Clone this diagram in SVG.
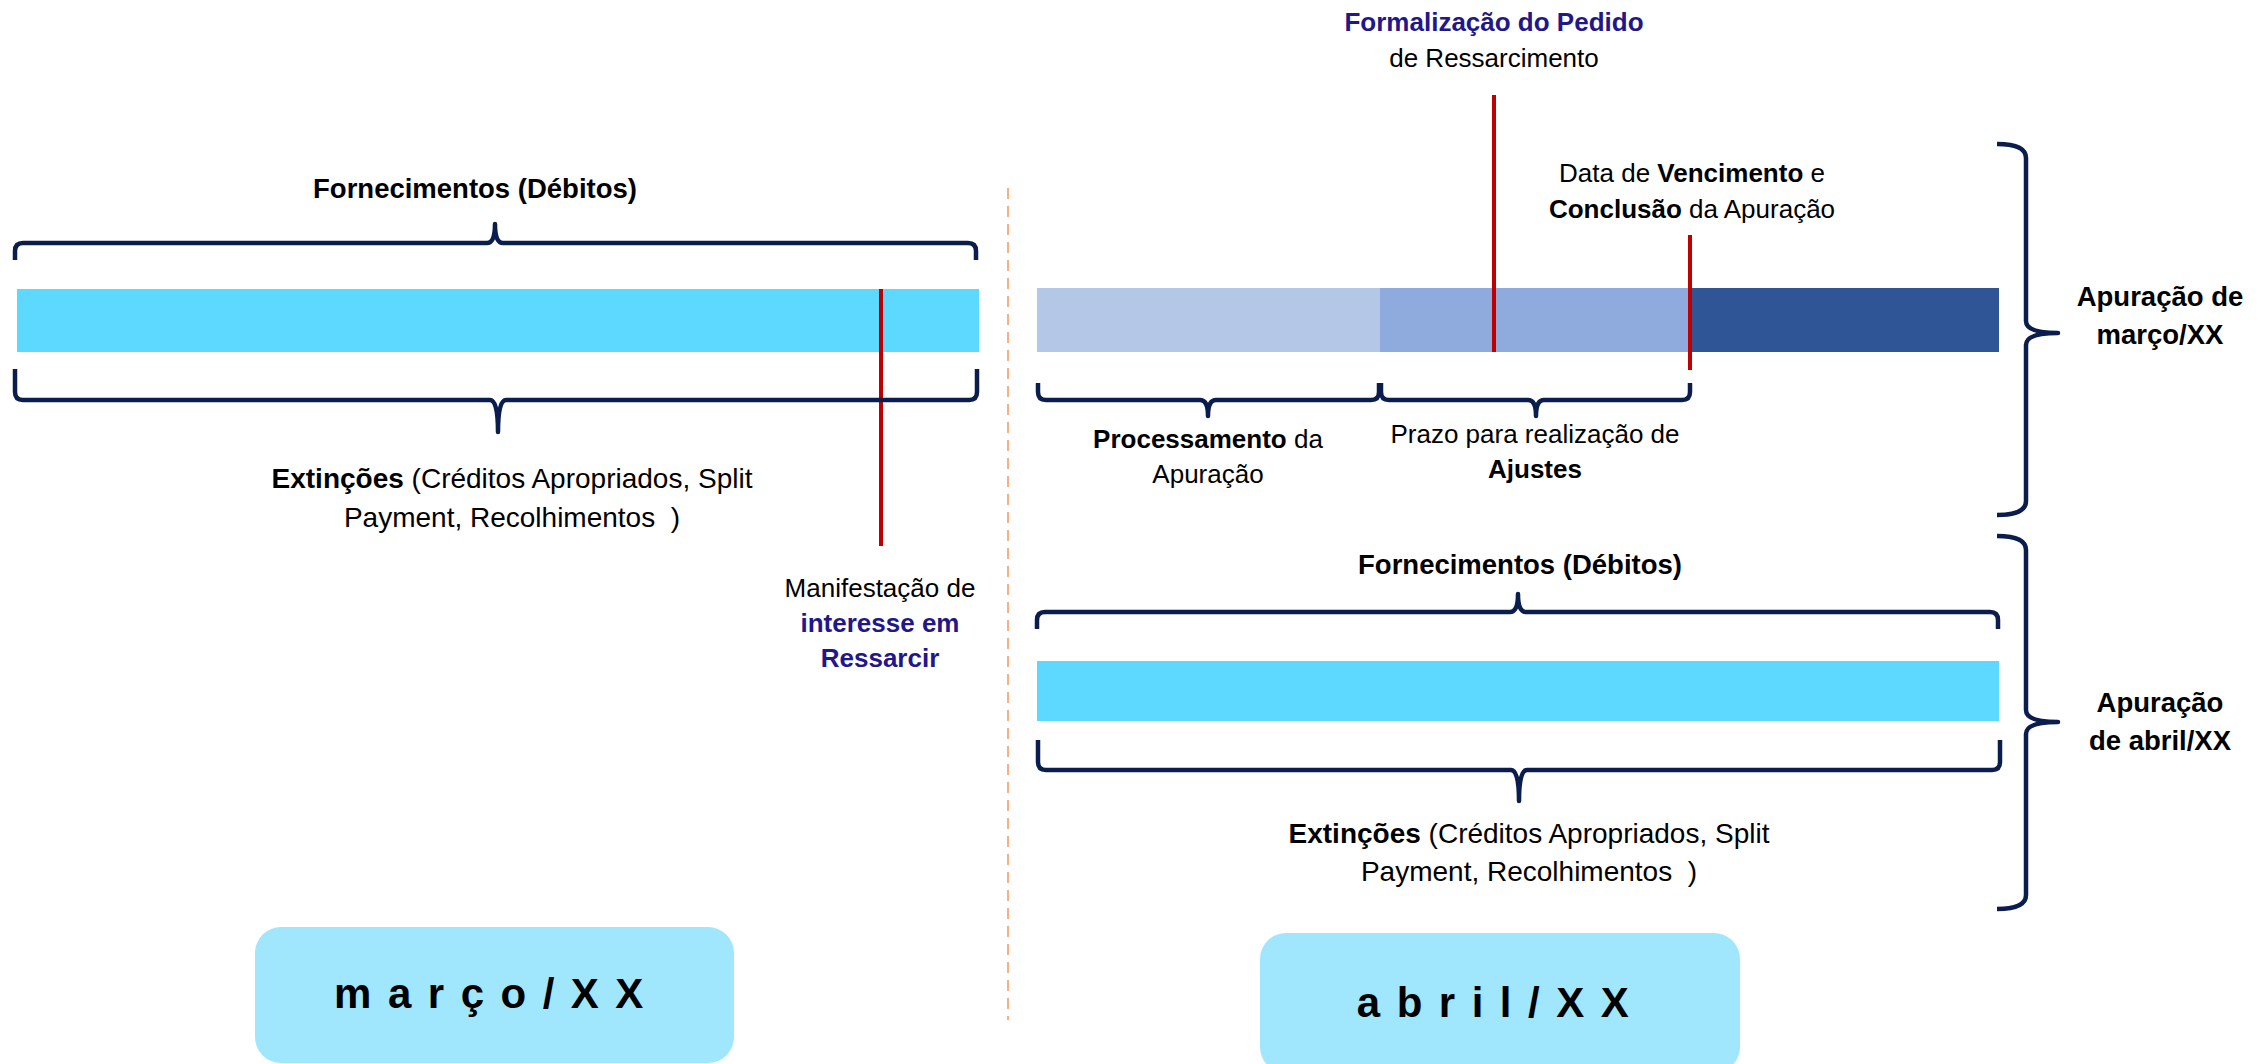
<svg xmlns="http://www.w3.org/2000/svg" width="2258" height="1064" viewBox="0 0 2258 1064">
<defs>
<style>
text{font-family:"Liberation Sans",Arial,sans-serif;fill:#000;text-anchor:middle}
.r{font-size:26px}
.t{font-size:27.5px;font-weight:bold}
.e{font-size:28px}
.b{font-weight:bold}
.blue{fill:#22178A;font-weight:bold}
.brace{fill:none;stroke:#0B1D4C;stroke-width:4.5;stroke-linejoin:round;stroke-linecap:butt}
.red{stroke:#C00000;stroke-width:4}
.cyan{fill:#5DD9FF}
.box{fill:#A0E7FE}
.month{font-size:42px;font-weight:bold;letter-spacing:16.5px}
</style>
</defs>
<rect width="2258" height="1064" fill="#fff"/>

<g id="divider">
<line x1="1008" y1="188" x2="1008" y2="1020" stroke="#F4B183" stroke-width="2" stroke-dasharray="11 7"/>
</g>

<g id="marco-timeline">
<text class="t" x="475" y="198">Fornecimentos (Débitos)</text>
<rect class="cyan" x="17" y="289" width="962" height="63"/>
<text class="e" x="512" y="488"><tspan class="b">Extinções</tspan> (Créditos Apropriados, Split</text>
<text class="e" x="512" y="527">Payment, Recolhimentos&#160; )</text>
</g>

<g id="abril-timeline">
<text class="t" x="1520" y="574">Fornecimentos (Débitos)</text>
<rect class="cyan" x="1037" y="661" width="962" height="60"/>
<text class="e" x="1529" y="843"><tspan class="b">Extinções</tspan> (Créditos Apropriados, Split</text>
<text class="e" x="1529" y="881">Payment, Recolhimentos&#160; )</text>
</g>

<g id="apuracao-marco-bar">
<rect x="1037" y="288" width="343" height="64" fill="#B4C7E7"/>
<rect x="1380" y="288" width="310" height="64" fill="#8FAADC"/>
<rect x="1690" y="288" width="309" height="64" fill="#2F5597"/>
<text class="r" x="1208" y="448"><tspan class="b">Processamento</tspan> da</text>
<text class="r" x="1208" y="483">Apuração</text>
<text class="r" x="1535" y="443">Prazo para realização de</text>
<text class="r b" x="1535" y="478">Ajustes</text>
</g>

<g id="manifestacao">
<line class="red" x1="881" y1="289" x2="881" y2="546"/>
<text class="r" x="880" y="597">Manifestação de</text>
<text class="r blue" x="880" y="632">interesse em</text>
<text class="r blue" x="880" y="667">Ressarcir</text>
</g>

<g id="formalizacao">
<line class="red" x1="1494" y1="95" x2="1494" y2="352"/>
<text class="r blue" x="1494" y="31">Formalização do Pedido</text>
<text class="r" x="1494" y="67">de Ressarcimento</text>
</g>

<g id="vencimento">
<line class="red" x1="1690" y1="235" x2="1690" y2="370"/>
<text class="r" x="1692" y="182">Data de <tspan class="b">Vencimento</tspan> e</text>
<text class="r" x="1692" y="218"><tspan class="b">Conclusão</tspan> da Apuração</text>
</g>

<g id="apuracao-marco-label">
<text class="t" x="2160" y="306">Apuração de</text>
<text class="t" x="2160" y="344">março/XX</text>
</g>

<g id="apuracao-abril-label">
<text class="t" x="2160" y="712">Apuração</text>
<text class="t" x="2160" y="750">de abril/XX</text>
</g>

<g id="box-marco">
<rect class="box" x="255" y="927" width="479" height="136" rx="26"/>
<text class="month" x="497" y="1008">março/XX</text>
</g>

<g id="box-abril">
<rect class="box" x="1260" y="933" width="480" height="140" rx="26"/>
<text class="month" x="1501" y="1017">abril/XX</text>
</g>

<g id="connectors">
<path class="brace" d="M15,260 L15,251 Q15,243 23,243 L487,243 Q495,243 495,224 Q495,243 503,243 L968,243 Q976,243 976,251 L976,260"/>
<path class="brace" d="M15,369 L15,392 Q15,400 23,400 L490,400 Q498,400 498,432 Q498,400 506,400 L969,400 Q977,400 977,392 L977,369"/>
<path class="brace" d="M1037,629 L1037,620 Q1037,612 1045,612 L1510,612 Q1518,612 1518,594 Q1518,612 1526,612 L1990,612 Q1998,612 1998,620 L1998,629"/>
<path class="brace" d="M1038,740 L1038,762 Q1038,770 1046,770 L1511,770 Q1519,770 1519,801 Q1519,770 1527,770 L1992,770 Q2000,770 2000,762 L2000,740"/>
<path class="brace" d="M1038,383 L1038,392 Q1038,400 1046,400 L1200,400 Q1208,400 1208,416 Q1208,400 1216,400 L1371,400 Q1379,400 1379,392 L1379,383"/>
<path class="brace" d="M1381,383 L1381,392 Q1381,400 1389,400 L1528,400 Q1536,400 1536,416 Q1536,400 1544,400 L1682,400 Q1690,400 1690,392 L1690,383"/>
<path class="brace" d="M1997,144 Q2026,144 2026,158 L2026,321 Q2026,333 2058,333 Q2026,333 2026,345 L2026,501 Q2026,515 1997,515"/>
<path class="brace" d="M1997,536 Q2026,536 2026,550 L2026,710 Q2026,722 2058,722 Q2026,722 2026,734 L2026,895 Q2026,909 1997,909"/>
</g>
</svg>
